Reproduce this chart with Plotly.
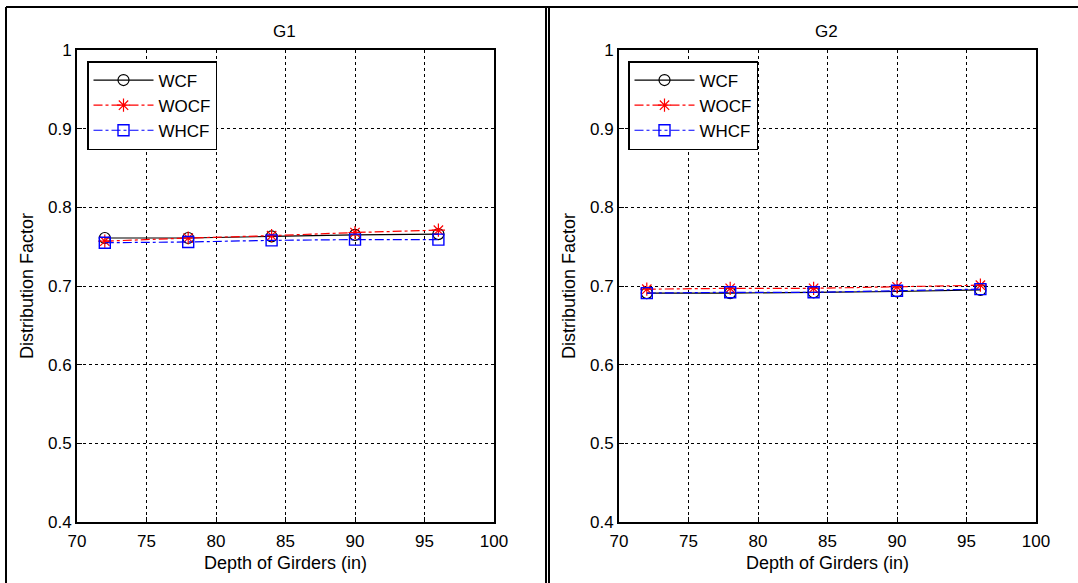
import plotly.graph_objects as go

depth = [72, 78, 84, 90, 96]
g1_wcf = [0.761, 0.761, 0.763, 0.765, 0.766]
g1_wocf = [0.757, 0.761, 0.764, 0.768, 0.771]
g1_whcf = [0.755, 0.756, 0.758, 0.759, 0.759]
g2_wcf = [0.691, 0.691, 0.692, 0.693, 0.695]
g2_wocf = [0.696, 0.697, 0.697, 0.699, 0.701]
g2_whcf = [0.691, 0.692, 0.692, 0.694, 0.696]

x_ticks = [70, 75, 80, 85, 90, 95, 100]
y_ticks = [0.4, 0.5, 0.6, 0.7, 0.8, 0.9, 1.0]
y_tick_text = ["0.4", "0.5", "0.6", "0.7", "0.8", "0.9", "1"]

W, H = 1078, 583
FONT = "Liberation Sans, Arial, sans-serif"

fig = go.Figure()

def add_series(xaxis, yaxis, legend, wcf, wocf, whcf):
    fig.add_trace(go.Scatter(x=depth, y=wcf, name="WCF", mode="lines+markers",
                             xaxis=xaxis, yaxis=yaxis, legend=legend,
                             line=dict(color="black", width=1.2),
                             marker=dict(symbol="circle-open", size=11, color="black",
                                         line=dict(width=1.2))))
    fig.add_trace(go.Scatter(x=depth, y=wocf, name="WOCF", mode="lines+markers",
                             xaxis=xaxis, yaxis=yaxis, legend=legend,
                             line=dict(color="red", width=1.2, dash="dashdot"),
                             marker=dict(symbol="asterisk-open", size=11, color="red",
                                         line=dict(width=1.2, color="red"))))
    fig.add_trace(go.Scatter(x=depth, y=whcf, name="WHCF", mode="lines+markers",
                             xaxis=xaxis, yaxis=yaxis, legend=legend,
                             line=dict(color="blue", width=1.2, dash="dashdot"),
                             marker=dict(symbol="square-open", size=11, color="blue",
                                         line=dict(width=1.4))))

add_series("x", "y", "legend", g1_wcf, g1_wocf, g1_whcf)
add_series("x2", "y2", "legend2", g2_wcf, g2_wocf, g2_whcf)

ytop = 1 - 50 / H
ybot = 1 - 522 / H

TF = dict(size=17, color="black", family=FONT)
AF = dict(size=18, color="black", family=FONT)

axis_common = dict(showline=True, linecolor="black", linewidth=2, mirror=True,
                   ticks="inside", ticklen=5, tickcolor="black",
                   showgrid=True, gridcolor="black", gridwidth=1, griddash="dot",
                   zeroline=False, automargin=False, tickfont=TF)

xa = dict(axis_common, range=[70, 100], tickvals=x_ticks, ticklabelstandoff=3,
          title=dict(text="Depth of Girders (in)", font=AF, standoff=6))
ya = dict(axis_common, range=[0.4, 1.0], tickvals=y_ticks, ticktext=y_tick_text,
          title=dict(text="Distribution Factor", font=AF, standoff=10))

legend_common = dict(bgcolor="white", bordercolor="black", borderwidth=1.5,
                     font=dict(size=17, color="black", family=FONT),
                     xanchor="left", yanchor="top", tracegroupgap=0, itemwidth=60)

fig.update_layout(
    width=W, height=H,
    margin=dict(l=0, r=0, t=0, b=0, pad=0, autoexpand=False),
    paper_bgcolor="white", plot_bgcolor="white",
    font=dict(family=FONT, color="black"),
    xaxis=dict(xa, domain=[77 / W, 494 / W], anchor="y"),
    yaxis=dict(ya, domain=[ybot, ytop], anchor="x"),
    xaxis2=dict(xa, domain=[619 / W, 1036 / W], anchor="y2"),
    yaxis2=dict(ya, domain=[ybot, ytop], anchor="x2"),
    legend=dict(legend_common, x=87 / W, y=1 - 61 / H),
    legend2=dict(legend_common, x=628 / W, y=1 - 61 / H),
    showlegend=True,
    annotations=[
        dict(text="G1", x=284 / W, y=1 - 32 / H, xref="paper", yref="paper",
             xanchor="center", yanchor="middle", showarrow=False, font=TF),
        dict(text="G2", x=826 / W, y=1 - 32 / H, xref="paper", yref="paper",
             xanchor="center", yanchor="middle", showarrow=False, font=TF),
    ],
    shapes=[
        dict(type="line", xref="paper", yref="paper", x0=6 / W, x1=1.0, y0=1 - 7 / H, y1=1 - 7 / H,
             line=dict(color="black", width=2)),
        dict(type="line", xref="paper", yref="paper", x0=6 / W, x1=6 / W, y0=-0.05, y1=1 - 7 / H,
             line=dict(color="black", width=2)),
        dict(type="line", xref="paper", yref="paper", x0=546 / W, x1=546 / W, y0=-0.05, y1=1 - 7 / H,
             line=dict(color="black", width=2)),
        dict(type="line", xref="paper", yref="paper", x0=549 / W, x1=549 / W, y0=-0.05, y1=1 - 7 / H,
             line=dict(color="black", width=2)),
    ],
)

fig.write_html("out.html", config={"displayModeBar": False},
               post_script="document.body.style.margin='0';document.body.style.padding='0';")
